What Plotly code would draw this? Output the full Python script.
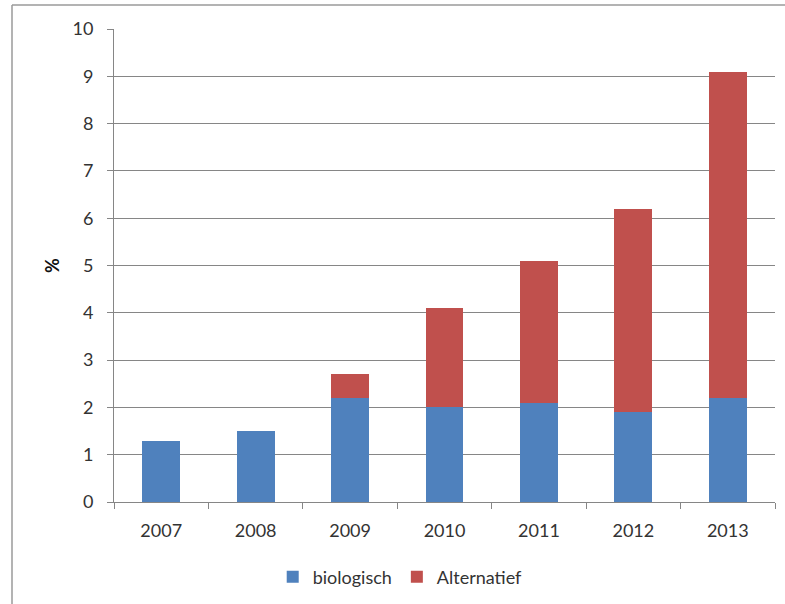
import plotly.graph_objects as go

years = ["2007", "2008", "2009", "2010", "2011", "2012", "2013"]
biologisch = [1.3, 1.5, 2.2, 2.0, 2.1, 1.9, 2.2]
alternatief = [0, 0, 0.5, 2.1, 3.0, 4.3, 6.9]

AXIS = "#868686"
FONT = "Lato, 'Open Sans', sans-serif"

fig = go.Figure()
fig.add_bar(x=years, y=biologisch, name="biologisch",
            marker=dict(color="#4F81BD", line_width=0))
fig.add_bar(x=years, y=alternatief, name="Alternatief",
            marker=dict(color="#C0504D", line_width=0))

fig.update_layout(
    barmode="stack",
    bargap=0.6,
    width=785, height=604,
    margin=dict(l=114, r=10, t=29, b=101),
    paper_bgcolor="white", plot_bgcolor="white",
    font=dict(family=FONT, size=18, color="#333333"),
    showlegend=True,
    legend=dict(orientation="h", x=0.433, xanchor="center",
                y=-0.156, yanchor="middle",
                font=dict(size=18, color="#333333"),
                itemwidth=30, traceorder="normal"),
)

fig.update_xaxes(
    type="category",
    showline=True, linecolor=AXIS, linewidth=1,
    ticks="outside", tickson="boundaries", ticklen=6,
    tickcolor=AXIS, showgrid=False, ticklabelstandoff=12,
)
fig.update_yaxes(
    range=[0, 10], dtick=1,
    showline=True, linecolor=AXIS, linewidth=1,
    ticks="outside", ticklen=6, tickcolor=AXIS,
    showgrid=True, gridcolor=AXIS, gridwidth=1,
    zeroline=False, ticklabelstandoff=10,
    title=dict(text="<b>%</b>", font=dict(size=18, color="#111111"),
               standoff=8),
)

# frame around the chart area (left and top edges)
fig.add_shape(type="line", xref="paper", yref="paper",
              x0=-0.1543, x1=-0.1543, y0=1.0506, y1=-0.35,
              line=dict(color="#9a9a9a", width=1.5))
fig.add_shape(type="line", xref="paper", yref="paper",
              x0=-0.1543, x1=1.1, y0=1.0506, y1=1.0506,
              line=dict(color="#9a9a9a", width=1.5))

fig.write_html("out.html")
